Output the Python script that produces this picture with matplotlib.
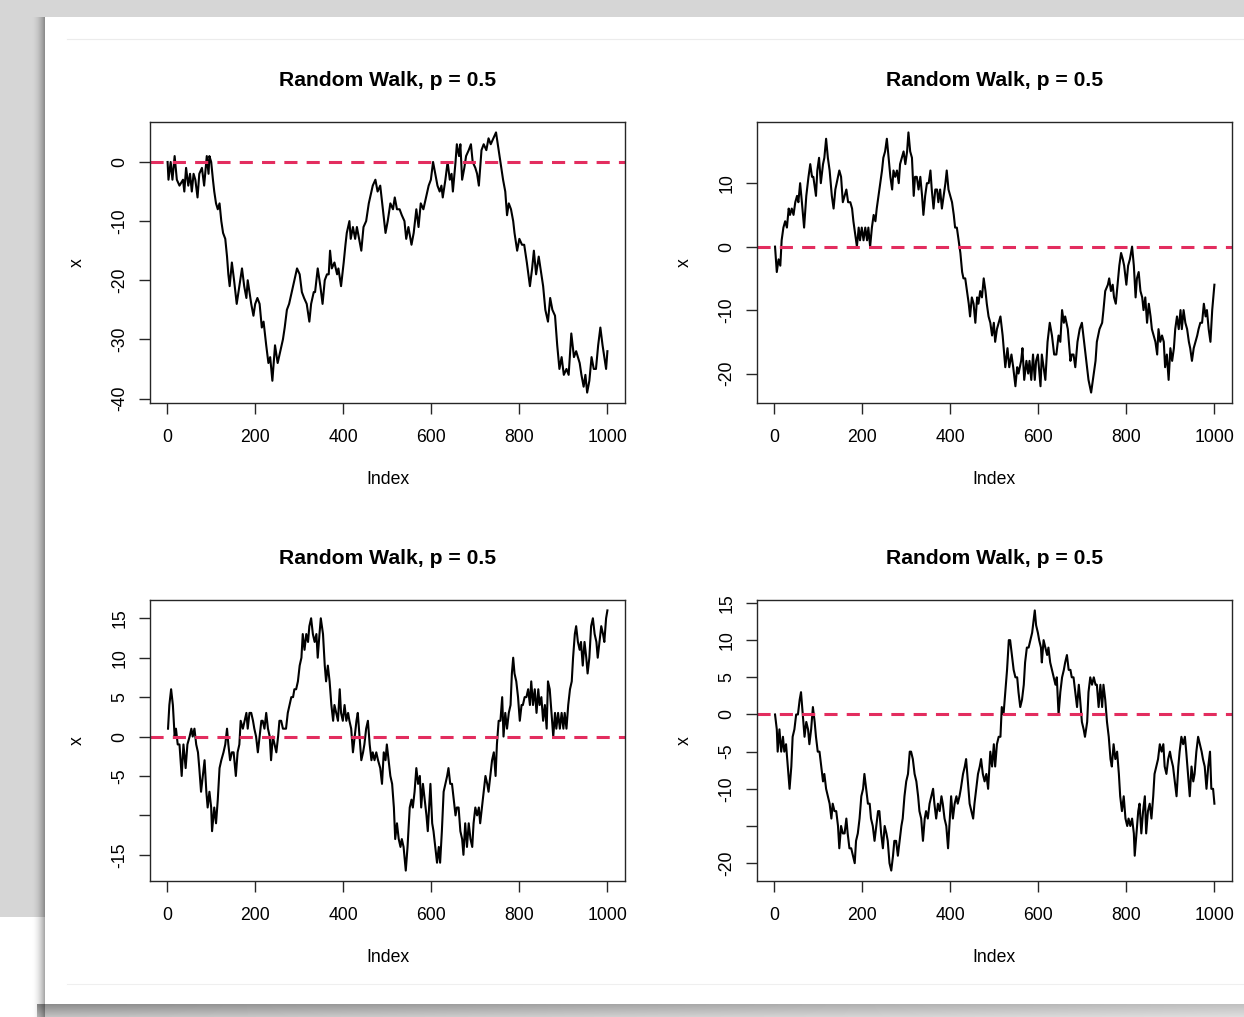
import numpy as np
import matplotlib.pyplot as plt
from matplotlib.patches import Rectangle

plt.rcParams['font.family'] = ['Liberation Sans', 'DejaVu Sans']

# four simulated walks (index, position)
walk1_idx = [1, 3, 8, 12, 17, 22, 28, 36, 39, 43, 48, 52, 56, 60, 64, 69, 73, 79, 84, 90,
             94, 96, 100, 104, 107, 111, 115, 119, 123, 127, 132, 136, 139, 142, 147, 152, 158, 164, 170, 175,
             180, 183, 191, 196, 200, 205, 210, 215, 219, 225, 230, 234, 239, 245, 251, 257, 263, 267, 272, 277,
             283, 289, 295, 301, 306, 311, 317, 323, 327, 333, 336, 342, 348, 353, 358, 363, 367, 370, 374, 380,
             386, 389, 395, 401, 405, 408, 414, 417, 422, 427, 431, 436, 441, 446, 452, 458, 461, 467, 473, 478,
             484, 490, 496, 501, 507, 513, 517, 522, 528, 533, 539, 543, 548, 555, 560, 566, 571, 576, 582, 588,
             594, 599, 604, 609, 614, 619, 623, 626, 632, 637, 642, 646, 649, 655, 658, 663, 666, 670, 675, 679,
             685, 690, 694, 700, 704, 708, 714, 719, 725, 730, 735, 741, 747, 751, 755, 759, 763, 768, 772, 776,
             781, 786, 789, 795, 800, 806, 811, 817, 824, 829, 833, 838, 844, 850, 854, 859, 865, 870, 875, 881,
             886, 891, 896, 901, 907, 912, 918, 924, 929, 933, 937, 941, 946, 950, 954, 959, 964, 969, 974, 979,
             984, 989, 993, 997, 1000]
walk1_x = [0, -3, 0, -3, 1, -3, -4, -3, -5, -1, -4, -2, -5, -2, -3, -6, -2, -1, -4, 1,
           -2, 1, 0, -3, -5, -7, -8, -7, -10, -12, -13, -16, -19, -21, -17, -20, -24, -21, -18, -21,
           -23, -20, -24, -26, -24, -23, -24, -28, -27, -31, -34, -33, -37, -31, -34, -32, -30, -28, -25, -24,
           -22, -20, -18, -19, -22, -23, -24, -27, -24, -22, -22, -18, -21, -24, -20, -19, -19, -15, -18, -17,
           -19, -18, -21, -17, -14, -12, -10, -13, -11, -13, -11, -13, -15, -11, -10, -7, -6, -4, -3, -5,
           -4, -8, -12, -10, -7, -8, -6, -8, -8, -9, -10, -13, -11, -14, -12, -8, -11, -7, -8, -6,
           -4, -3, 0, -2, -4, -5, -4, -6, -3, 0, -3, -2, -5, 0, 3, 1, 3, -3, -1, 1,
           2, 3, 0, -1, -2, -4, 2, 3, 2, 4, 3, 4, 5, 3, 1, -1, -3, -5, -9, -7,
           -8, -10, -12, -15, -13, -14, -14, -17, -21, -18, -15, -19, -16, -19, -21, -25, -27, -23, -25, -26,
           -31, -35, -33, -36, -35, -36, -29, -33, -32, -33, -34, -36, -38, -36, -39, -37, -33, -35, -35, -31,
           -28, -31, -33, -35, -32]

walk2_idx = [2, 6, 10, 14, 17, 21, 25, 29, 33, 36, 40, 44, 48, 52, 55, 59, 63, 68, 73, 78,
             82, 86, 89, 95, 98, 102, 106, 111, 114, 118, 122, 126, 131, 135, 139, 142, 148, 152, 156, 160,
             164, 168, 173, 177, 180, 184, 188, 192, 195, 199, 203, 207, 211, 214, 218, 222, 226, 230, 233, 237,
             241, 245, 248, 252, 256, 260, 264, 268, 271, 275, 279, 283, 286, 290, 294, 298, 302, 305, 309, 313,
             317, 320, 324, 328, 332, 336, 339, 343, 347, 351, 355, 358, 362, 366, 370, 373, 377, 381, 385, 389,
             392, 396, 400, 404, 408, 411, 415, 419, 423, 427, 430, 434, 438, 442, 445, 449, 453, 457, 461, 464,
             468, 472, 476, 480, 483, 487, 491, 495, 499, 502, 506, 510, 514, 519, 525, 530, 534, 539, 543, 548,
             552, 555, 561, 564, 568, 573, 577, 580, 584, 588, 592, 595, 599, 605, 608, 612, 616, 621, 626, 631,
             636, 641, 646, 650, 654, 658, 661, 667, 673, 676, 680, 684, 689, 694, 699, 704, 709, 714, 720, 724,
             730, 733, 739, 745, 748, 752, 758, 761, 765, 769, 772, 776, 780, 784, 788, 792, 795, 800, 804, 808,
             813, 817, 821, 824, 828, 832, 836, 839, 843, 847, 851, 855, 858, 862, 866, 870, 873, 877, 881, 885,
             888, 892, 896, 900, 904, 908, 911, 915, 919, 923, 926, 930, 934, 938, 942, 945, 949, 953, 957, 961,
             964, 968, 972, 976, 980, 983, 987, 991, 995, 1000]
walk2_x = [0, -4, -2, -3, 1, 3, 4, 3, 6, 5, 6, 5, 7, 8, 7, 10, 7, 3, 8, 11,
           13, 11, 11, 8, 12, 14, 10, 13, 14, 17, 14, 12, 8, 6, 9, 10, 12, 11, 7, 8,
           9, 7, 7, 6, 4, 2, 0, 3, 1, 3, 1, 3, 1, 3, 0, 3, 5, 4, 6, 8,
           10, 12, 14, 15, 17, 14, 11, 9, 12, 11, 12, 10, 13, 14, 15, 13, 15, 18, 15, 14,
           8, 11, 11, 9, 11, 8, 5, 8, 10, 10, 12, 9, 6, 9, 9, 7, 9, 6, 8, 10,
           12, 9, 8, 7, 5, 3, 3, 1, -1, -4, -5, -5, -7, -9, -11, -8, -9, -12, -8, -9,
           -7, -8, -5, -7, -9, -11, -12, -14, -12, -15, -13, -12, -11, -14, -19, -16, -19, -17, -19, -22,
           -19, -20, -18, -16, -21, -18, -20, -18, -21, -17, -21, -18, -17, -22, -17, -19, -21, -15, -12, -14,
           -17, -17, -14, -15, -10, -12, -11, -13, -18, -17, -17, -19, -15, -13, -12, -15, -18, -21, -23, -21,
           -18, -15, -13, -12, -10, -7, -6, -5, -7, -6, -8, -9, -6, -3, -1, -2, -3, -6, -3, -2,
           0, -3, -8, -5, -4, -7, -8, -10, -8, -12, -9, -11, -13, -14, -15, -17, -13, -15, -14, -15,
           -19, -17, -21, -16, -18, -16, -13, -11, -13, -10, -13, -10, -12, -13, -15, -16, -18, -16, -15, -14,
           -13, -12, -12, -9, -11, -10, -13, -15, -10, -6]

walk3_idx = [2, 5, 9, 13, 17, 20, 24, 28, 33, 37, 42, 46, 51, 55, 58, 62, 66, 70, 73, 77,
             81, 85, 89, 92, 96, 100, 102, 107, 111, 115, 119, 123, 128, 132, 136, 139, 143, 147, 151, 156,
             160, 164, 167, 172, 176, 180, 183, 187, 191, 195, 198, 202, 206, 210, 214, 217, 221, 225, 229, 233,
             236, 240, 244, 248, 252, 255, 259, 263, 267, 270, 274, 278, 282, 286, 289, 293, 297, 301, 305, 308,
             312, 316, 320, 323, 327, 331, 335, 339, 342, 346, 349, 354, 358, 361, 365, 369, 373, 377, 380, 384,
             388, 392, 395, 399, 403, 407, 411, 414, 418, 422, 426, 430, 433, 437, 441, 445, 448, 452, 456, 460,
             464, 467, 471, 475, 479, 484, 488, 492, 496, 499, 503, 507, 511, 515, 518, 522, 526, 530, 533, 537,
             542, 546, 551, 555, 558, 562, 566, 570, 574, 577, 581, 585, 589, 592, 598, 602, 605, 609, 613, 617,
             620, 624, 628, 632, 636, 639, 643, 647, 651, 655, 658, 662, 666, 670, 673, 677, 681, 685, 689, 693,
             696, 700, 704, 708, 711, 715, 719, 723, 727, 730, 734, 738, 742, 746, 749, 753, 757, 761, 764, 768,
             772, 776, 780, 783, 786, 789, 793, 797, 801, 805, 808, 812, 816, 820, 824, 827, 831, 835, 839, 843,
             846, 850, 854, 858, 862, 865, 869, 873, 877, 881, 884, 888, 892, 896, 900, 903, 907, 911, 915, 919,
             922, 926, 929, 933, 937, 940, 944, 948, 952, 955, 959, 963, 967, 971, 975, 978, 982, 986, 990, 993,
             997, 1000]
walk3_x = [1, 4, 6, 4, 0, 1, -1, -1, -5, -1, -4, -1, 0, 1, 0, 1, -1, -2, -4, -7,
           -5, -3, -7, -9, -7, -9, -12, -9, -11, -8, -4, -3, -2, -1, 1, -1, -3, -2, -2, -5,
           -2, -1, 2, 1, 2, 3, 1, 3, 3, 2, 1, 0, -2, 0, 2, 2, 1, 3, 1, 0,
           -3, 0, -1, -2, 0, 2, 2, 1, 1, 1, 3, 4, 5, 5, 6, 6, 7, 9, 10, 13,
           11, 13, 12, 14, 15, 13, 12, 13, 10, 13, 15, 13, 9, 7, 9, 7, 4, 2, 4, 3,
           2, 6, 3, 2, 4, 2, 3, 2, 1, -2, 0, 2, 3, 0, -3, -2, -1, 1, 2, -1,
           -3, -2, -3, -2, -3, -4, -6, -2, -3, -1, -3, -5, -6, -9, -13, -11, -13, -14, -13, -14,
           -17, -14, -9, -8, -9, -7, -4, -6, -5, -9, -6, -8, -10, -12, -6, -11, -12, -14, -16, -14,
           -16, -12, -7, -6, -5, -4, -6, -6, -8, -10, -9, -9, -12, -13, -15, -11, -14, -11, -13, -14,
           -11, -9, -10, -9, -11, -9, -7, -5, -6, -7, -5, -3, -2, -5, -1, 2, 2, 5, 0, 3,
           1, 3, 4, 8, 10, 8, 7, 5, 2, 4, 4, 5, 5, 6, 4, 7, 4, 6, 3, 6,
           4, 5, 2, 4, 1, 7, 6, 3, 0, 3, 1, 3, 1, 3, 1, 3, 1, 4, 6, 7,
           10, 13, 14, 12, 11, 12, 9, 12, 10, 8, 10, 14, 15, 13, 12, 10, 12, 14, 13, 12,
           15, 16]

walk4_idx = [2, 6, 8, 12, 16, 20, 23, 27, 31, 35, 39, 42, 46, 50, 54, 58, 61, 65, 69, 73,
             77, 80, 84, 88, 92, 95, 99, 103, 107, 111, 114, 118, 122, 126, 130, 133, 137, 141, 145, 148,
             152, 156, 160, 164, 167, 171, 175, 179, 183, 186, 190, 194, 198, 202, 205, 209, 213, 217, 220, 224,
             228, 232, 236, 239, 243, 247, 251, 255, 258, 262, 266, 270, 273, 277, 281, 285, 289, 292, 296, 300,
             304, 308, 311, 315, 319, 323, 327, 330, 334, 338, 342, 345, 349, 353, 357, 361, 364, 368, 372, 376,
             380, 383, 387, 391, 395, 398, 402, 406, 410, 414, 417, 421, 424, 429, 433, 436, 440, 444, 448, 452,
             455, 459, 463, 467, 470, 474, 478, 482, 486, 491, 495, 499, 502, 506, 510, 514, 517, 521, 525, 529,
             533, 536, 540, 544, 548, 552, 555, 559, 563, 567, 570, 574, 578, 582, 586, 590, 592, 595, 599, 602,
             606, 608, 612, 616, 620, 623, 627, 631, 635, 639, 642, 646, 650, 654, 658, 661, 665, 669, 673, 676,
             680, 684, 688, 692, 695, 699, 703, 706, 711, 714, 718, 722, 726, 730, 733, 737, 741, 745, 748, 752,
             756, 760, 764, 767, 771, 775, 779, 783, 786, 790, 794, 798, 802, 805, 809, 813, 817, 819, 823, 827,
             830, 834, 838, 842, 845, 849, 853, 857, 861, 864, 868, 872, 876, 880, 884, 887, 891, 895, 899, 902,
             906, 910, 914, 918, 921, 925, 929, 933, 936, 940, 944, 948, 952, 955, 959, 963, 967, 971, 974, 978,
             982, 986, 990, 993, 997, 1000]
walk4_x = [0, -2, -5, -2, -5, -3, -5, -4, -7, -10, -7, -3, -2, 0, 0, 2, 3, 0, -3, -1,
           -2, -4, -2, 1, -1, -3, -5, -5, -7, -9, -8, -10, -11, -12, -14, -12, -13, -13, -15, -18,
           -15, -16, -16, -14, -16, -18, -18, -19, -20, -17, -16, -14, -11, -10, -8, -10, -12, -12, -14, -15,
           -17, -15, -13, -13, -16, -18, -15, -16, -17, -20, -21, -19, -17, -17, -19, -17, -15, -14, -11, -9,
           -8, -5, -5, -6, -8, -9, -11, -13, -14, -17, -14, -13, -14, -12, -11, -10, -12, -14, -12, -13,
           -11, -12, -14, -15, -18, -15, -11, -14, -12, -11, -12, -11, -10, -8, -7, -6, -9, -12, -13, -14,
           -12, -10, -8, -7, -6, -8, -9, -8, -10, -5, -7, -4, -7, -4, -3, -3, 1, 0, 3, 6,
           10, 10, 8, 6, 5, 5, 3, 1, 2, 4, 7, 9, 9, 10, 11, 13, 14, 12, 11, 10,
           9, 7, 10, 9, 8, 9, 7, 6, 5, 4, 5, 0, 3, 5, 6, 7, 8, 6, 6, 5,
           5, 3, 1, 4, 2, -1, -2, -3, -1, 3, 5, 4, 5, 4, 4, 1, 4, 1, 4, 2,
           -1, -3, -6, -7, -4, -6, -5, -8, -11, -13, -11, -14, -15, -14, -15, -14, -16, -19, -16, -13,
           -12, -16, -13, -11, -16, -13, -12, -14, -11, -8, -7, -6, -4, -5, -4, -7, -8, -6, -5, -6,
           -7, -9, -11, -7, -5, -3, -4, -3, -5, -8, -11, -7, -9, -8, -5, -3, -4, -5, -6, -7,
           -10, -7, -5, -10, -10, -12]

x_ticks = [0, 200, 400, 600, 800, 1000]
y_ticks1 = [-40, -30, -20, -10, 0]
y_ticks2 = [-20, -10, 0, 10]
y_ticks3 = [-15, -10, -5, 0, 5, 10, 15]
y_labels3 = ['-15', '', '-5', '0', '5', '10', '15']
y_ticks4 = [-20, -15, -10, -5, 0, 5, 10, 15]
y_labels4 = ['-20', '', '-10', '-5', '0', '5', '10', '15']

title = 'Random Walk, p = 0.5'

W, H = 1244, 1017
fig = plt.figure(figsize=(W / 100, H / 100), dpi=100)

# backdrop: grey desktop, white sheet with a soft drop shadow
bg = fig.add_axes([0, 0, 1, 1], zorder=-10)
bg.set_xlim(0, W)
bg.set_ylim(H, 0)
bg.axis('off')
bg.add_patch(Rectangle((0, 0), W, 917, color='#d6d6d6', lw=0))

left_alpha = np.linspace(0, 1, 60) ** 2 * 0.36
left_sh = np.zeros((1, 60, 4))
left_sh[..., 3] = left_alpha
bg.imshow(left_sh, extent=(31, 45, H, 17), aspect='auto', interpolation='bilinear', zorder=1)

rows = np.linspace(1, 0.55, 12)[:, None]
cols = np.linspace(1, 0.55, 200)[None, :]
bot_sh = np.zeros((12, 200, 4))
bot_sh[..., 3] = 0.45 * rows * cols
bg.imshow(bot_sh, extent=(37, W, H, 1004), aspect='auto', interpolation='bilinear', zorder=1)

bg.add_patch(Rectangle((45, 17), W - 45, 1004 - 17, color='white', lw=0, zorder=2))
bg.plot([67, W], [39, 39], color='#ececec', lw=0.8, zorder=3)
bg.plot([67, W], [984, 984], color='#efefef', lw=0.8, zorder=3)


def r_range(lo, hi):
    pad = 0.04 * (hi - lo)
    return lo - pad, hi + pad


panels = [
    ((150, 122, 625, 403), walk1_idx, walk1_x, y_ticks1, [str(v) for v in y_ticks1]),
    ((757, 122, 1232, 403), walk2_idx, walk2_x, y_ticks2, [str(v) for v in y_ticks2]),
    ((150, 600, 625, 881), walk3_idx, walk3_x, y_ticks3, y_labels3),
    ((757, 600, 1232, 881), walk4_idx, walk4_x, y_ticks4, y_labels4),
]

edge = '#262626'
for (x0, y0, x1, y1), idx, vals, yt, ylab in panels:
    ax = fig.add_axes([x0 / W, 1 - y1 / H, (x1 - x0) / W, (y1 - y0) / H])
    ax.plot(idx, vals, color='black', lw=1.5)
    ax.axhline(0, color='#E32D5F', lw=2.2, ls=(0, (4.3, 3.0)))

    ax.set_xlim(*r_range(1, 1000))
    ax.set_ylim(*r_range(min(vals), max(vals)))
    ax.set_xticks(x_ticks)
    ax.set_xticklabels([str(v) for v in x_ticks])
    ax.set_yticks(yt)
    ax.set_yticklabels(ylab, rotation=90, va='center')
    ax.tick_params(length=7.9, width=1.0, labelsize=12.7, color=edge)
    ax.tick_params(axis='x', pad=11)
    ax.tick_params(axis='y', pad=7.5)
    for s in ax.spines.values():
        s.set_color(edge)
        s.set_linewidth(1.0)

    h = y1 - y0
    ax.set_title(title, fontsize=15.2, fontweight='bold', y=1 + 42 / h, va='center', pad=0)
    ax.set_xlabel('Index', fontsize=12.7)
    ax.xaxis.set_label_coords(0.5, -76 / h)
    ax.xaxis.label.set_va('center')
    ax.set_ylabel('x', fontsize=12.7)
    ax.yaxis.set_label_coords(-73 / (x1 - x0), 0.5)
    ax.yaxis.label.set_va('center')

fig.savefig('out.png', dpi=100)
